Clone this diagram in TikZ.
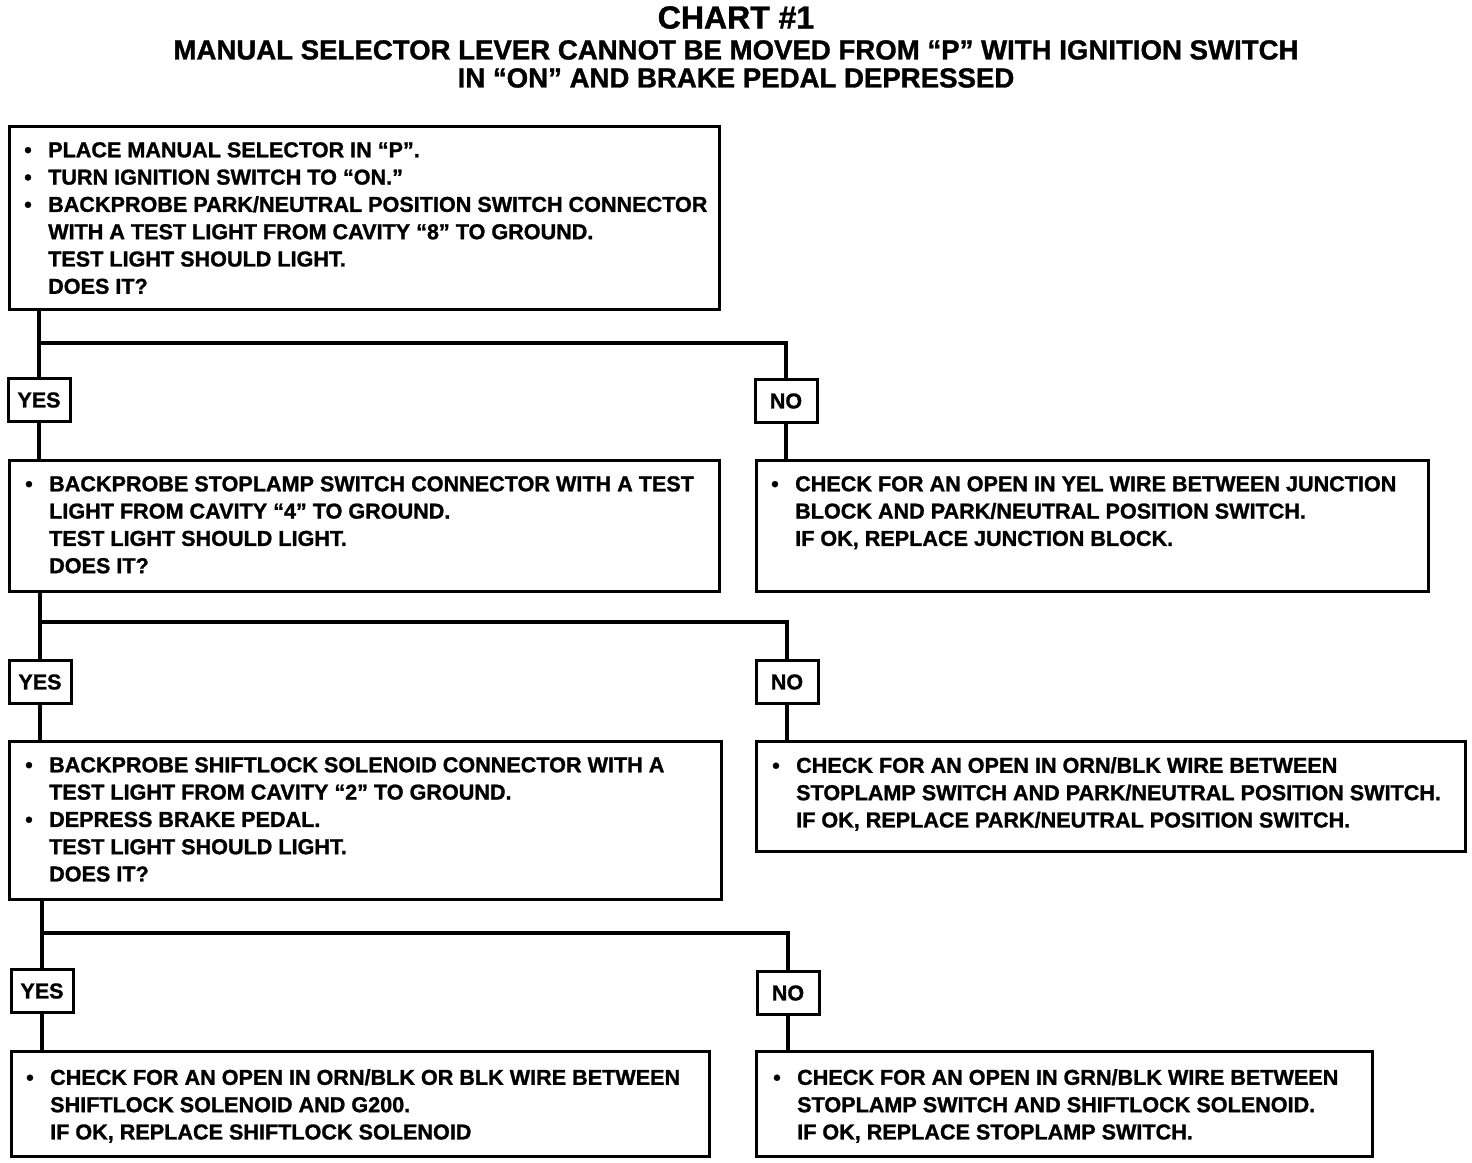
\documentclass[tikz,border=0pt]{standalone}
\usepackage{fontspec}
\setmainfont[BoldFeatures={FakeBold=1.2}]{Liberation Sans}
\newcommand{\bul}{\makebox[24pt][l]{\textbullet}}
\newcommand{\ind}{\hspace*{24pt}}
\begin{document}
\begin{tikzpicture}[x=1pt,y=-1pt,
  box/.style={draw, line width=3pt, inner sep=0pt, anchor=north west},
  lbl/.style={draw, line width=3pt, inner sep=0pt, minimum width=62pt, minimum height=43pt, font=\bfseries\fontsize{21.5}{27}\selectfont},
  txt/.style={anchor=north west, inner sep=0pt, align=left, font=\bfseries\fontsize{21.6}{27.3}\selectfont},
  wire/.style={line width=4.5pt},
  ttl/.style={inner sep=0pt, font=\bfseries}]
\useasboundingbox (0,0) rectangle (1472,1162);
% title
\node[ttl, anchor=north, font=\bfseries\fontsize{32}{36}\selectfont] (t1) at (736,6) {CHART \#1};
\node[ttl, anchor=north, align=center, font=\bfseries\fontsize{27.6}{28}\selectfont] (t2) at (736,40) {MANUAL SELECTOR LEVER CANNOT BE MOVED FROM “P” WITH IGNITION SWITCH\\IN “ON” AND BRAKE PEDAL DEPRESSED};
% boxes
\node[box, minimum width=710pt, minimum height=183pt] (b1) at (8,125) {};
\node[box, minimum width=710pt, minimum height=131pt] (b2) at (8,459) {};
\node[box, minimum width=672pt, minimum height=131pt] (r1) at (755,459) {};
\node[box, minimum width=712pt, minimum height=158pt] (b3) at (8,740) {};
\node[box, minimum width=709pt, minimum height=110pt] (r2) at (755,740) {};
\node[box, minimum width=698pt, minimum height=105pt] (b4) at (10,1050) {};
\node[box, minimum width=616pt, minimum height=105pt] (r3) at (755,1050) {};
% labels
\node[lbl] (y1) at (39,400) {YES};
\node[lbl] (n1) at (786,401) {NO};
\node[lbl] (y2) at (40,682) {YES};
\node[lbl] (n2) at (787,682) {NO};
\node[lbl] (y3) at (42,991) {YES};
\node[lbl] (n3) at (788,993) {NO};
% texts
\node[txt] (x1) at (24,142) {\bul PLACE MANUAL SELECTOR IN “P”.\\
\bul TURN IGNITION SWITCH TO “ON.”\\
\bul BACKPROBE PARK/NEUTRAL POSITION SWITCH CONNECTOR\\
\ind WITH A TEST LIGHT FROM CAVITY “8” TO GROUND.\\
\ind TEST LIGHT SHOULD LIGHT.\\
\ind DOES IT?};
\node[txt] (x2) at (25,476) {\bul BACKPROBE STOPLAMP SWITCH CONNECTOR WITH A TEST\\
\ind LIGHT FROM CAVITY “4” TO GROUND.\\
\ind TEST LIGHT SHOULD LIGHT.\\
\ind DOES IT?};
\node[txt] (x3) at (771,476) {\bul CHECK FOR AN OPEN IN YEL WIRE BETWEEN JUNCTION\\
\ind BLOCK AND PARK/NEUTRAL POSITION SWITCH.\\
\ind IF OK, REPLACE JUNCTION BLOCK.};
\node[txt] (x4) at (25,757) {\bul BACKPROBE SHIFTLOCK SOLENOID CONNECTOR WITH A\\
\ind TEST LIGHT FROM CAVITY “2” TO GROUND.\\
\bul DEPRESS BRAKE PEDAL.\\
\ind TEST LIGHT SHOULD LIGHT.\\
\ind DOES IT?};
\node[txt] (x5) at (772,757) {\bul CHECK FOR AN OPEN IN ORN/BLK WIRE BETWEEN\\
\ind STOPLAMP SWITCH AND PARK/NEUTRAL POSITION SWITCH.\\
\ind IF OK, REPLACE PARK/NEUTRAL POSITION SWITCH.};
\node[txt] (x6) at (26,1069) {\bul CHECK FOR AN OPEN IN ORN/BLK OR BLK WIRE BETWEEN\\
\ind SHIFTLOCK SOLENOID AND G200.\\
\ind IF OK, REPLACE SHIFTLOCK SOLENOID};
\node[txt] (x7) at (773,1069) {\bul CHECK FOR AN OPEN IN GRN/BLK WIRE BETWEEN\\
\ind STOPLAMP SWITCH AND SHIFTLOCK SOLENOID.\\
\ind IF OK, REPLACE STOPLAMP SWITCH.};
% connectors
\coordinate (j1) at (39,343);
\coordinate (j2) at (40,622);
\coordinate (j3) at (42,933);
\draw[wire] (b1.south -| y1) -- (y1.north);
\draw[wire] (j1) -| (n1.north);
\draw[wire] (y1.south) -- (y1.south |- b2.north);
\draw[wire] (n1.south) -- (n1.south |- r1.north);
\draw[wire] (b2.south -| y2) -- (y2.north);
\draw[wire] (j2) -| (n2.north);
\draw[wire] (y2.south) -- (y2.south |- b3.north);
\draw[wire] (n2.south) -- (n2.south |- r2.north);
\draw[wire] (b3.south -| y3) -- (y3.north);
\draw[wire] (j3) -| (n3.north);
\draw[wire] (y3.south) -- (y3.south |- b4.north);
\draw[wire] (n3.south) -- (n3.south |- r3.north);
\end{tikzpicture}
\end{document}
